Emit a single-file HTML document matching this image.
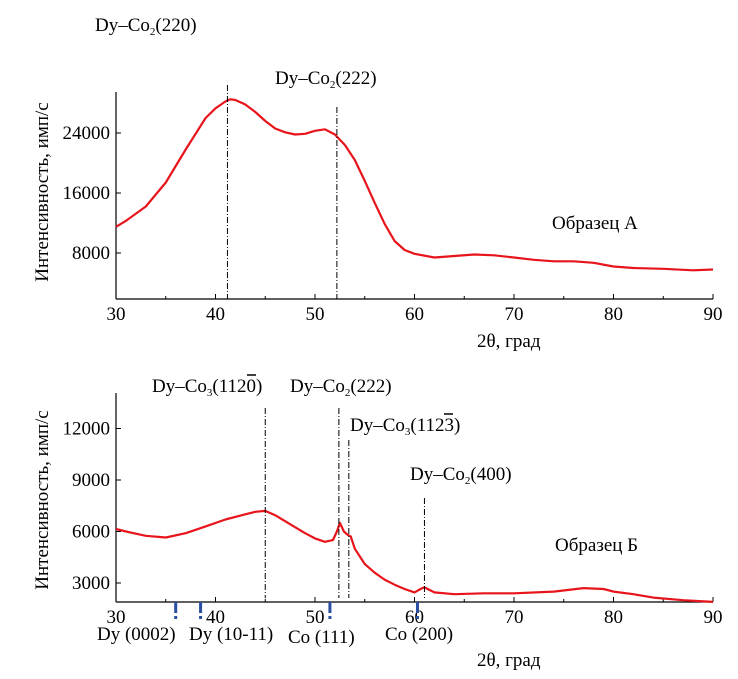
<!DOCTYPE html>
<html><head><meta charset="utf-8">
<style>
body{margin:0;background:#fff;}
svg{display:block;font-family:"Liberation Serif",serif;}
</style></head>
<body>
<svg id="chart" width="738" height="679" viewBox="0 0 738 679"></svg>
<script>
const xTicks=[30,40,50,60,70,80,90];
const topTicks=[8000,16000,24000];
const botTicks=[3000,6000,9000,12000];
const topX=[30,31,33,35,37,39,40,41,41.5,42,43,44,45,46,47,48,49,50,51,52,53,54,55,56,57,58,59,60,62,64,66,68,70,72,74,76,78,80,82,85,88,90];
const topY=[11500,12300,14200,17400,21800,26000,27300,28200,28500,28400,27800,26800,25600,24600,24100,23800,23900,24300,24500,23800,22400,20400,17600,14700,11900,9600,8400,7900,7400,7600,7800,7700,7400,7100,6900,6900,6700,6200,6000,5900,5700,5800];
const botX=[30,31,33,35,37,39,41,43,44,45,46,47,48,49,50,51,51.8,52.2,52.5,52.9,53.3,53.6,54,55,56,57,58,59,60,60.6,61,61.5,62,64,67,70,74,77,79,80,82,84,87,90];
const botY=[6150,6000,5750,5650,5900,6300,6700,7000,7150,7200,6950,6600,6250,5900,5600,5400,5500,6000,6500,6000,5800,5700,5000,4100,3600,3200,2900,2650,2450,2650,2750,2600,2450,2350,2400,2400,2500,2700,2650,2500,2350,2150,2000,1900];
const topLines=[41.2,52.2];
const botLines=[45,52.4,53.4,61];
const markers=[36,38.5,51.5,60.3];

const NS="http://www.w3.org/2000/svg";
const svg=document.getElementById('chart');
function el(t,a,txt){const e=document.createElementNS(NS,t);for(const k in a)e.setAttribute(k,a[k]);if(txt!==undefined)e.textContent=txt;svg.appendChild(e);return e;}
const xs=v=>116+(v-30)*(713-116)/60;
const ysT=v=>313-v*60/8000;
const ysB=v=>634.5-v*51.5/3000;

function axes(base,top,ys,ticks,pre){
  let a=el('line',{x1:116,y1:base,x2:713,y2:base,stroke:'#000','stroke-width':1.2});
  
  let b=el('line',{x1:116,y1:base,x2:116,y2:top,stroke:'#000','stroke-width':1.2});
  
  for(let v=30;v<=90;v+=5){el('line',{x1:xs(v),y1:base,x2:xs(v),y2:base-(v%10?3:5),stroke:'#000'});}
  xTicks.forEach(v=>{const t=el('text',{x:xs(v),y:base+21,'text-anchor':'middle','font-size':19},String(v));
    });
  ticks.forEach(v=>{el('line',{x1:116,y1:ys(v),x2:121,y2:ys(v),stroke:'#000'});
    const t=el('text',{x:110,y:ys(v)+6,'text-anchor':'end','font-size':19},String(v));
    });
}
axes(299,92,ysT,topTicks,'top');
axes(602,393,ysB,botTicks,'bottom');

function series(X,Y,ys,name){
  let d='';X.forEach((x,i)=>{d+=(i?'L':'M')+xs(x).toFixed(1)+','+ys(Y[i]).toFixed(1);});
  const p=el('path',{d:d,fill:'none',stroke:'#e8141c','stroke-width':2.2,'stroke-linejoin':'round'});
  
}
series(topX,topY,ysT,'sample-a-curve');
series(botX,botY,ysB,'sample-b-curve');

const topStarts=[85,107];
topLines.forEach((v,i)=>{const l=el('line',{x1:xs(v),y1:topStarts[i],x2:xs(v),y2:299,stroke:'#000','stroke-dasharray':'6,2,1,2'});
  });
const botStarts=[408,408,440,498];
botLines.forEach((v,i)=>{const l=el('line',{x1:xs(v),y1:botStarts[i],x2:xs(v),y2:598,stroke:'#000','stroke-dasharray':'6,2,1,2'});
  });
markers.forEach(v=>{const m=el('line',{x1:xs(v),y1:602,x2:xs(v),y2:619,stroke:'#2a4ea0','stroke-width':3,'stroke-dasharray':'11,3,3,20'});
  });
</script>
<svg width="738" height="679" style="position:absolute;left:0;top:0;font-family:'Liberation Serif',serif;font-size:19px">
<text x="95" y="31">Dy–Co<tspan font-size="11" dy="4">2</tspan><tspan dy="-4">(220)</tspan></text>
<text x="275" y="84">Dy–Co<tspan font-size="11" dy="4">2</tspan><tspan dy="-4">(222)</tspan></text>
<text x="552" y="229">Образец А</text>
<text x="477" y="347">2θ, град</text>
<text transform="translate(48,192) rotate(-90)" text-anchor="middle">Интенсивность, имп/с</text>
<text x="152" y="392">Dy–Co<tspan font-size="11" dy="4">3</tspan><tspan dy="-4">(1120)</tspan></text>
<line x1="247" y1="375" x2="256" y2="375" stroke="#000" stroke-width="1.5"/>
<text x="290" y="392">Dy–Co<tspan font-size="11" dy="4">2</tspan><tspan dy="-4">(222)</tspan></text>
<text x="350" y="431">Dy–Co<tspan font-size="11" dy="4">3</tspan><tspan dy="-4">(1123)</tspan></text>
<line x1="444" y1="414" x2="453" y2="414" stroke="#000" stroke-width="1.5"/>
<text x="410" y="480">Dy–Co<tspan font-size="11" dy="4">2</tspan><tspan dy="-4">(400)</tspan></text>
<text x="555" y="551">Образец Б</text>
<text x="97" y="640">Dy (0002)</text>
<text x="189" y="640">Dy (10-11)</text>
<text x="288" y="643">Co (111)</text>
<text x="385" y="640">Co (200)</text>
<text x="477" y="666">2θ, град</text>
<text transform="translate(48,500) rotate(-90)" text-anchor="middle">Интенсивность, имп/с</text>
</svg>
</body></html>
